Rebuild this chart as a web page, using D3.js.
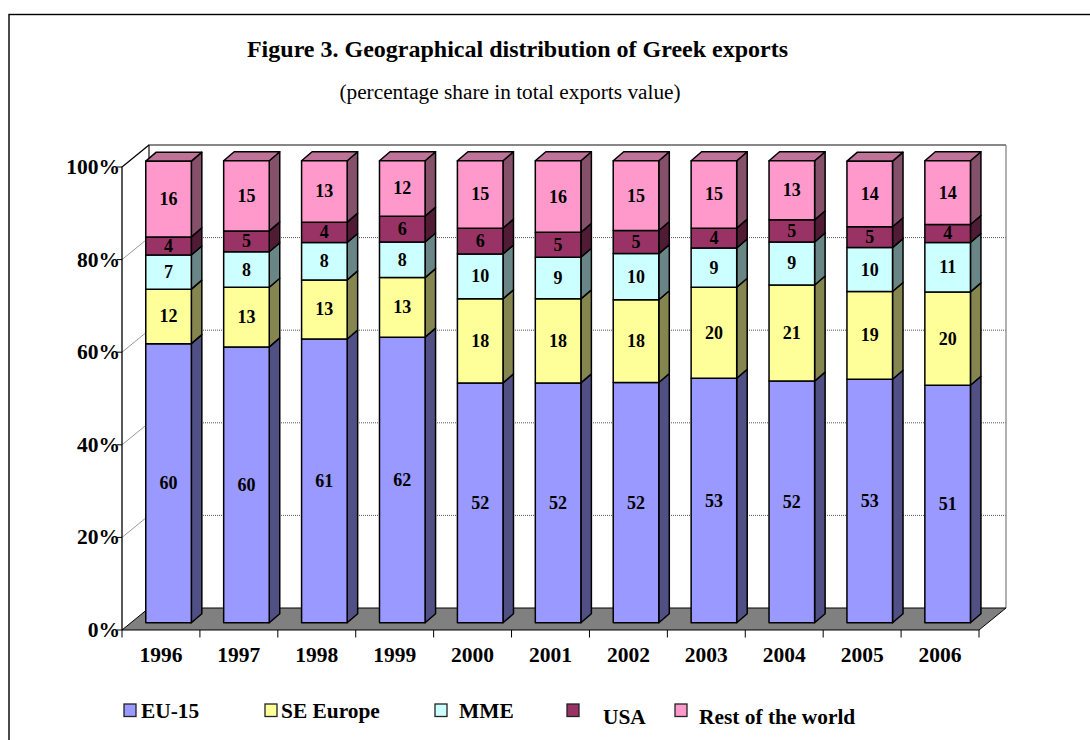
<!DOCTYPE html>
<html>
<head>
<meta charset="utf-8">
<script src="https://cdn.jsdelivr.net/npm/d3@7"></script>
<style>
  html, body { margin: 0; padding: 0; background: #fff; }
  text { font-family: "Liberation Serif", serif; fill: #000; }
</style>
</head>
<body>
<div id="chart"></div>
<script>
// Values, one array per series
const years = ["1996", "1997", "1998", "1999", "2000", "2001", "2002", "2003", "2004", "2005", "2006"];
const seriesNames = ["EU-15", "SE Europe", "MME", "USA", "Rest of the world"];
const eu15 = [60.4, 59.7, 61.4, 61.8, 51.9, 51.9, 52.0, 52.9, 52.3, 52.7, 51.4];
const seEurope = [11.8, 12.9, 12.8, 12.9, 18.2, 18.2, 17.9, 19.7, 20.8, 19.0, 20.2];
const mme = [7.4, 7.7, 8.1, 7.7, 9.7, 9.0, 10.0, 8.5, 9.3, 9.5, 10.7];
const usa = [3.9, 4.5, 4.4, 5.6, 5.6, 5.4, 5.0, 4.3, 4.8, 4.5, 3.9];
const rest = [16.4, 15.2, 13.3, 12.0, 14.6, 15.5, 15.1, 14.6, 12.8, 14.2, 13.8];
const yTicks = [0, 20, 40, 60, 80, 100];
const colors = ["#9999FF", "#FFFF99", "#CCFFFF", "#993366", "#FF99CC"];

const width = 1090, height = 740;
const allSeries = [eu15, seEurope, mme, usa, rest];

// Oblique offsets of the fake 3D box
const wallDx = 27, wallDy = -22;      // front plane to back wall
const barOffX = 7.6;                  // front plane to bar front
const barDx = 10.5, barDy = -9;       // bar depth

const svg = d3.select("#chart").append("svg")
    .attr("width", width)
    .attr("height", height)
    .style("display", "block");

const x = d3.scaleBand().domain(years).range([122, 979]).paddingInner(0.415).paddingOuter(0.2075);
const xEdge = d3.scaleLinear().domain([0, years.length]).range([122, 979]);
const y = d3.scaleLinear().domain([0, 100]).range([630, 167]);
// Bars stand a little behind the axis plane
const yBar = d3.scaleLinear().domain([0, 100]).range([622.7, 160.7]);

// Stack the series by hand so the arrays above stay separate
const rows = years.map((year, i) => {
    const row = { year };
    seriesNames.forEach((name, s) => { row[name] = allSeries[s][i]; });
    return row;
});
const stacked = d3.stack().keys(seriesNames)(rows);

// Side and top faces are the series colour, darkened
function shade(color, k) {
    const c = d3.rgb(color);
    return d3.rgb(c.r * k, c.g * k, c.b * k).formatHex();
}
const pts = arr => arr.map(p => p.join(",")).join(" ");

// Outer frame
svg.append("rect").attr("x", 9).attr("y", 14.5).attr("width", 1200).attr("height", 800)
    .attr("fill", "none").attr("stroke", "#000").attr("stroke-width", 1.4);

// Title
svg.append("text").attr("x", 517.5).attr("y", 57).attr("text-anchor", "middle")
    .attr("font-size", 24).attr("font-weight", "bold")
    .text("Figure 3. Geographical distribution of Greek exports");
svg.append("text").attr("x", 510).attr("y", 99).attr("text-anchor", "middle")
    .attr("font-size", 21.3)
    .text("(percentage share in total exports value)");

const x0 = 122, x1 = 979;

// Gridlines on the back wall and left side wall
const grid = svg.append("g");
yTicks.slice(1, -1).forEach(t => {
    grid.append("line")
        .attr("x1", x0 + wallDx).attr("x2", x1 + wallDx)
        .attr("y1", y(t) + wallDy).attr("y2", y(t) + wallDy)
        .attr("stroke", "#555").attr("stroke-width", 1).attr("stroke-dasharray", "1,1");
    grid.append("line")
        .attr("x1", x0).attr("x2", x0 + wallDx)
        .attr("y1", y(t)).attr("y2", y(t) + wallDy)
        .attr("stroke", "#999").attr("stroke-width", 1);
});

// Back wall outline
svg.append("polyline")
    .attr("points", pts([[x0 + wallDx, y(0) + wallDy], [x0 + wallDx, y(100) + wallDy], [x1 + wallDx, y(100) + wallDy]]))
    .attr("fill", "none").attr("stroke", "#111").attr("stroke-width", 1.2);
svg.append("line")
    .attr("x1", x1 + wallDx).attr("x2", x1 + wallDx)
    .attr("y1", y(100) + wallDy).attr("y2", y(0) + wallDy)
    .attr("stroke", "#888").attr("stroke-width", 1.3);

// Floor
svg.append("polygon")
    .attr("points", pts([[x0, y(0)], [x1, y(0)], [x1 + wallDx, y(0) + wallDy], [x0 + wallDx, y(0) + wallDy]]))
    .attr("fill", "#808080").attr("stroke", "#000").attr("stroke-width", 1);

// Left wall edge
svg.append("polyline")
    .attr("points", pts([[x0 + wallDx, y(100) + wallDy], [x0, y(100)], [x0, y(0)]]))
    .attr("fill", "none").attr("stroke", "#000").attr("stroke-width", 1.3);

// Bars, bottom series first, side face, then top, then front
const bars = svg.append("g").attr("stroke", "#000").attr("stroke-width", 1.5).attr("stroke-linejoin", "round");
years.forEach((year, i) => {
    const bx0 = x(year) + barOffX, bx1 = bx0 + x.bandwidth();
    stacked.forEach((layer, s) => {
        const ya = yBar(layer[i][0]), yb = yBar(layer[i][1]);
        bars.append("polygon")
            .attr("points", pts([[bx1, ya], [bx1 + barDx, ya + barDy], [bx1 + barDx, yb + barDy], [bx1, yb]]))
            .attr("fill", shade(colors[s], 0.52));
        if (s === stacked.length - 1) {
            bars.append("polygon")
                .attr("points", pts([[bx0, yb], [bx1, yb], [bx1 + barDx, yb + barDy], [bx0 + barDx, yb + barDy]]))
                .attr("fill", shade(colors[s], 0.75));
        }
        bars.append("rect")
            .attr("x", bx0).attr("y", yb)
            .attr("width", x.bandwidth()).attr("height", ya - yb)
            .attr("fill", colors[s]);
    });
});

// Value labels, centred on the front faces
years.forEach((year, i) => {
    stacked.forEach(layer => {
        svg.append("text")
            .attr("x", x(year) + barOffX + x.bandwidth() / 2)
            .attr("y", yBar((layer[i][0] + layer[i][1]) / 2) + 6)
            .attr("text-anchor", "middle")
            .attr("font-size", 18).attr("font-weight", "bold")
            .text(Math.round(layer[i][1] - layer[i][0]));
    });
});

// Y axis ticks and labels
yTicks.forEach(t => {
    svg.append("line").attr("x1", x0 - 5).attr("x2", x0).attr("y1", y(t)).attr("y2", y(t))
        .attr("stroke", "#000").attr("stroke-width", 1);
    svg.append("text").attr("x", x0 - 2).attr("y", y(t) + 7).attr("text-anchor", "end")
        .attr("font-size", 21.5).attr("font-weight", "bold").text(t + "%");
});

// X axis ticks and labels
d3.range(years.length + 1).forEach(i => {
    svg.append("line").attr("x1", xEdge(i)).attr("x2", xEdge(i)).attr("y1", y(0)).attr("y2", y(0) + 7.5)
        .attr("stroke", "#000").attr("stroke-width", 1);
});
years.forEach((year, i) => {
    svg.append("text").attr("x", xEdge(i + 0.5)).attr("y", 662).attr("text-anchor", "middle")
        .attr("font-size", 21.5).attr("font-weight", "bold").text(year);
});

// Legend, boxes and labels placed unevenly as in the original
const legendBoxX = [124, 265, 435, 567, 675];
const legendBoxY = [704, 704, 704, 704, 704];
const legendTextX = [141, 281, 459, 603, 699];
const legendTextY = [718, 718, 718, 724, 724];
seriesNames.forEach((name, s) => {
    svg.append("rect").attr("x", legendBoxX[s]).attr("y", legendBoxY[s]).attr("width", 12).attr("height", 12.5)
        .attr("fill", colors[s]).attr("stroke", "#222").attr("stroke-width", 1.3);
    svg.append("text").attr("x", legendTextX[s]).attr("y", legendTextY[s])
        .attr("font-size", 21.4).attr("font-weight", "bold").text(name);
});
</script>
</body>
</html>
